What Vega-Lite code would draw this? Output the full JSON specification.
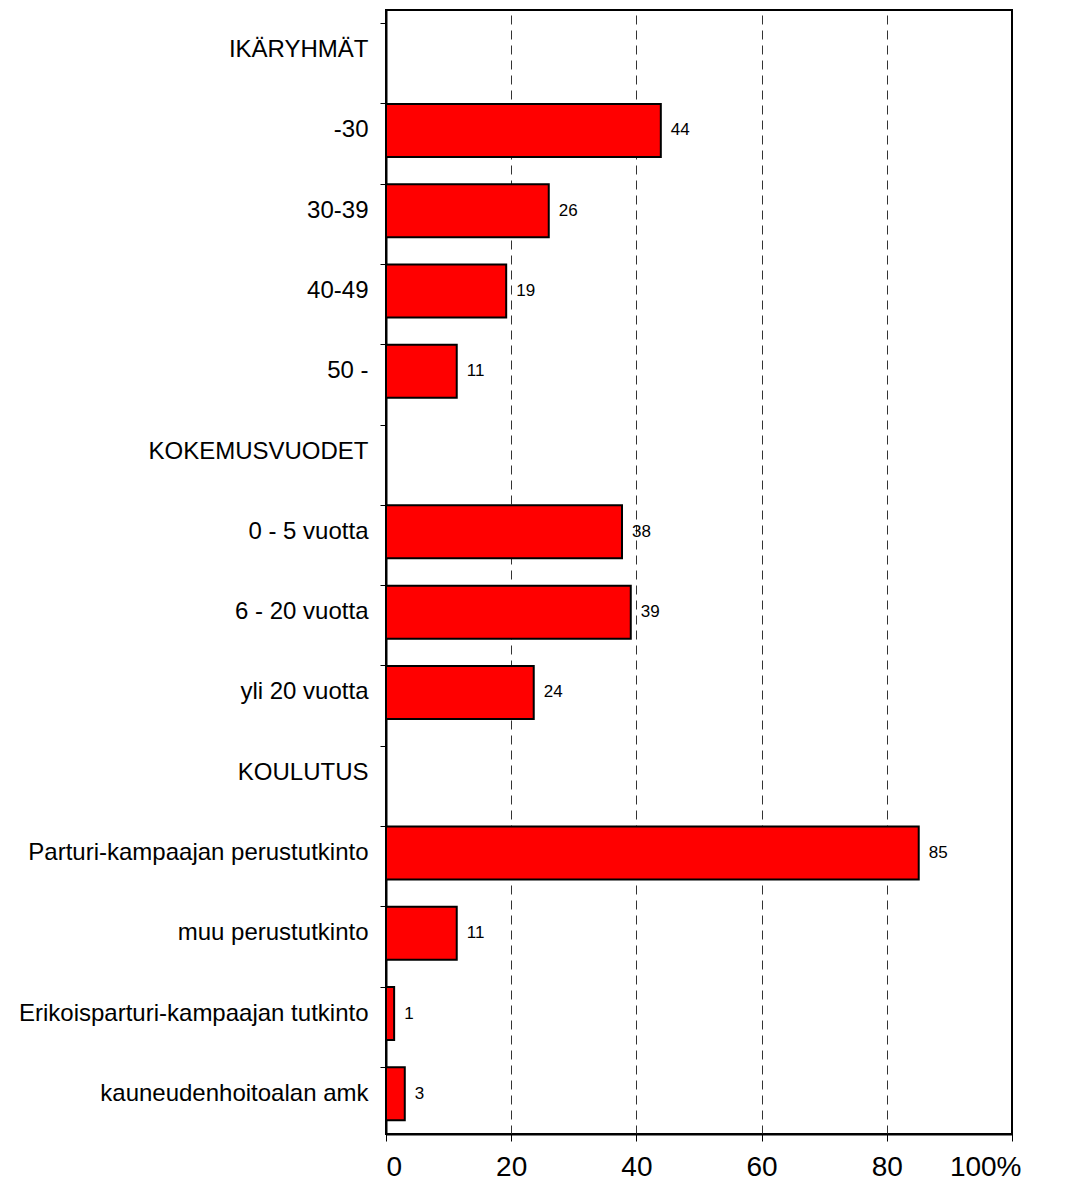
{
  "$schema": "https://vega.github.io/schema/vega-lite/v6.json",
  "autosize": "none",
  "width": 626,
  "height": 1124,
  "padding": {"left": 386, "top": 10, "right": 61, "bottom": 60},
  "background": "white",
  "config": {
    "view": {"stroke": "black", "strokeWidth": 2},
    "font": "Liberation Sans"
  },
  "data": {
    "values": [
      {"group": "-30", "pct": 43.9},
      {"group": "30-39", "pct": 26.0},
      {"group": "40-49", "pct": 19.2},
      {"group": "50 -\u00a0", "pct": 11.3},
      {"group": "0 - 5 vuotta\u00a0", "pct": 37.7},
      {"group": "6 - 20 vuotta", "pct": 39.1},
      {"group": "yli 20 vuotta", "pct": 23.6},
      {"group": "Parturi-kampaajan perustutkinto", "pct": 85.1},
      {"group": "muu perustutkinto", "pct": 11.3},
      {"group": "Erikoisparturi-kampaajan tutkinto", "pct": 1.3},
      {"group": "kauneudenhoitoalan amk", "pct": 3.0}
    ]
  },
  "encoding": {
    "y": {
      "field": "group",
      "type": "nominal",
      "scale": {
        "domain": ["IKÄRYHMÄT", "-30", "30-39", "40-49", "50 -\u00a0", "KOKEMUSVUODET", "0 - 5 vuotta\u00a0", "6 - 20 vuotta", "yli 20 vuotta", "KOULUTUS", "Parturi-kampaajan perustutkinto", "muu perustutkinto", "Erikoisparturi-kampaajan tutkinto", "kauneudenhoitoalan amk"],
        "paddingInner": 0.34,
        "paddingOuter": 0.17
      },
      "axis": {
        "title": null,
        "bandPosition": 0,
        "ticks": true,
        "tickSize": 6,
        "tickColor": "black",
        "tickWidth": 1,
        "domainColor": "black",
        "domainWidth": 2,
        "labelFontSize": 24,
        "labelColor": "black",
        "labelPadding": 12,
        "labelLimit": 400,
        "grid": false
      }
    },
    "x": {
      "field": "pct",
      "type": "quantitative",
      "scale": {"domain": [0, 100], "nice": false},
      "axis": {
        "title": null,
        "values": [0, 20, 40, 60, 80, 100],
        "labelExpr": "datum.value == 100 ? '100%' : datum.label",
        "labelFontSize": 28,
        "labelColor": "black",
        "labelPadding": 12,
        "labelOffset": {"condition": {"test": "datum.value == 100", "value": 9}, "value": 0},
        "tickSize": 7,
        "tickColor": "black",
        "tickWidth": 1,
        "domainColor": "black",
        "domainWidth": 2,
        "grid": true,
        "gridDash": [9, 6],
        "gridColor": "#333333",
        "gridWidth": 1,
        "gridOpacity": {"condition": {"test": "datum.value == 0 || datum.value == 100", "value": 0}, "value": 1}
      }
    }
  },
  "layer": [
    {
      "mark": {"type": "bar", "fill": "#ff0000", "stroke": "black", "strokeWidth": 2}
    },
    {
      "mark": {"type": "text", "align": "left", "baseline": "middle", "dx": 10, "fontSize": 17, "color": "black"},
      "encoding": {
        "text": {"field": "pct", "type": "quantitative", "format": ".0f"}
      }
    }
  ]
}
